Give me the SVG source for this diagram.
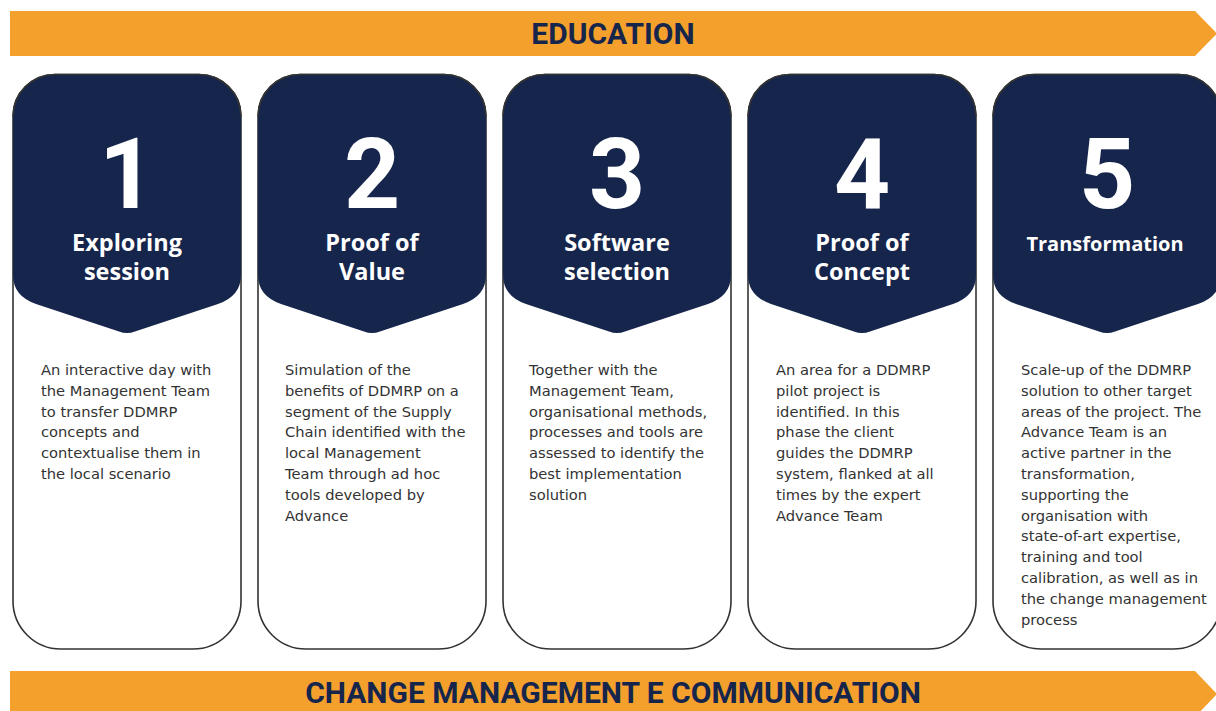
<svg xmlns="http://www.w3.org/2000/svg" width="1216" height="711" viewBox="0 0 1216 711">
<defs>
<style>
.banner{fill:#F4A02D}
.btxt{font-family:Roboto,"Liberation Sans",sans-serif;font-weight:700;font-size:30px;fill:#16254B;text-anchor:middle}
.card{fill:#fff;stroke:#333;stroke-width:1.6}
.head{fill:#16254B}
.num{font-family:Roboto,"Liberation Sans",sans-serif;font-weight:700;font-size:98px;fill:#fff;text-anchor:middle}
.title{font-family:"Open Sans","Noto Sans",sans-serif;font-weight:700;font-size:23.5px;fill:#fff;text-anchor:middle}
.desc{font-family:"DejaVu Sans",sans-serif;font-size:14.7px;fill:#333}
</style>
</defs>
<rect width="1216" height="711" fill="#fff"/>
<g id="banner-top">
<path class="banner" d="M10,11 H1195 L1217,33.5 L1195,56 H10 Z"/>
<text class="btxt" x="613" y="44">EDUCATION</text>
</g>
<g id="banner-bottom">
<path class="banner" d="M10,671 H1195 L1217,694 L1195,717 H10 Z"/>
<text class="btxt" x="613" y="703">CHANGE MANAGEMENT E COMMUNICATION</text>
</g>
<g id="card1" transform="translate(13,0)">
<path class="card" d="M0,116 A42,42 0 0 1 42,74.5 H186 A42,42 0 0 1 228,116 V601 A48,48 0 0 1 180,649 H48 A48,48 0 0 1 0,601 Z"/>
<path class="head" d="M0,116 A42,42 0 0 1 42,74.5 H186 A42,42 0 0 1 228,116 V275 Q228,296 205,304 L122,331.5 Q114,334.5 106,331.5 L23,304 Q0,296 0,275 Z"/>
<path d="M0,116 A42,42 0 0 1 42,74.5 H186 A42,42 0 0 1 228,116" fill="none" stroke="#333" stroke-width="1.6"/>
<text class="num" x="114" y="208">1</text>
<text class="title" x="114" y="251">Exploring</text>
<text class="title" x="114" y="280">session</text>
<text class="desc" x="28" y="375">An interactive day with</text>
<text class="desc" x="28" y="395.8">the Management Team</text>
<text class="desc" x="28" y="416.6">to transfer DDMRP</text>
<text class="desc" x="28" y="437.4">concepts and</text>
<text class="desc" x="28" y="458.2">contextualise them in</text>
<text class="desc" x="28" y="479">the local scenario</text>
</g>
<g id="card2" transform="translate(258,0)">
<path class="card" d="M0,116 A42,42 0 0 1 42,74.5 H186 A42,42 0 0 1 228,116 V601 A48,48 0 0 1 180,649 H48 A48,48 0 0 1 0,601 Z"/>
<path class="head" d="M0,116 A42,42 0 0 1 42,74.5 H186 A42,42 0 0 1 228,116 V275 Q228,296 205,304 L122,331.5 Q114,334.5 106,331.5 L23,304 Q0,296 0,275 Z"/>
<path d="M0,116 A42,42 0 0 1 42,74.5 H186 A42,42 0 0 1 228,116" fill="none" stroke="#333" stroke-width="1.6"/>
<text class="num" x="114" y="208">2</text>
<text class="title" x="114" y="251">Proof of</text>
<text class="title" x="114" y="280">Value</text>
<text class="desc" x="27" y="375">Simulation of the</text>
<text class="desc" x="27" y="395.8">benefits of DDMRP on a</text>
<text class="desc" x="27" y="416.6">segment of the Supply</text>
<text class="desc" x="27" y="437.4">Chain identified with the</text>
<text class="desc" x="27" y="458.2">local Management</text>
<text class="desc" x="27" y="479">Team through ad hoc</text>
<text class="desc" x="27" y="499.8">tools developed by</text>
<text class="desc" x="27" y="520.6">Advance</text>
</g>
<g id="card3" transform="translate(503,0)">
<path class="card" d="M0,116 A42,42 0 0 1 42,74.5 H186 A42,42 0 0 1 228,116 V601 A48,48 0 0 1 180,649 H48 A48,48 0 0 1 0,601 Z"/>
<path class="head" d="M0,116 A42,42 0 0 1 42,74.5 H186 A42,42 0 0 1 228,116 V275 Q228,296 205,304 L122,331.5 Q114,334.5 106,331.5 L23,304 Q0,296 0,275 Z"/>
<path d="M0,116 A42,42 0 0 1 42,74.5 H186 A42,42 0 0 1 228,116" fill="none" stroke="#333" stroke-width="1.6"/>
<text class="num" x="114" y="208">3</text>
<text class="title" x="114" y="251">Software</text>
<text class="title" x="114" y="280">selection</text>
<text class="desc" x="26" y="375">Together with the</text>
<text class="desc" x="26" y="395.8">Management Team,</text>
<text class="desc" x="26" y="416.6">organisational methods,</text>
<text class="desc" x="26" y="437.4">processes and tools are</text>
<text class="desc" x="26" y="458.2">assessed to identify the</text>
<text class="desc" x="26" y="479">best implementation</text>
<text class="desc" x="26" y="499.8">solution</text>
</g>
<g id="card4" transform="translate(748,0)">
<path class="card" d="M0,116 A42,42 0 0 1 42,74.5 H186 A42,42 0 0 1 228,116 V601 A48,48 0 0 1 180,649 H48 A48,48 0 0 1 0,601 Z"/>
<path class="head" d="M0,116 A42,42 0 0 1 42,74.5 H186 A42,42 0 0 1 228,116 V275 Q228,296 205,304 L122,331.5 Q114,334.5 106,331.5 L23,304 Q0,296 0,275 Z"/>
<path d="M0,116 A42,42 0 0 1 42,74.5 H186 A42,42 0 0 1 228,116" fill="none" stroke="#333" stroke-width="1.6"/>
<text class="num" x="114" y="208">4</text>
<text class="title" x="114" y="251">Proof of</text>
<text class="title" x="114" y="280">Concept</text>
<text class="desc" x="28" y="375">An area for a DDMRP</text>
<text class="desc" x="28" y="395.8">pilot project is</text>
<text class="desc" x="28" y="416.6">identified. In this</text>
<text class="desc" x="28" y="437.4">phase the client</text>
<text class="desc" x="28" y="458.2">guides the DDMRP</text>
<text class="desc" x="28" y="479">system, flanked at all</text>
<text class="desc" x="28" y="499.8">times by the expert</text>
<text class="desc" x="28" y="520.6">Advance Team</text>
</g>
<g id="card5" transform="translate(993,0)">
<path class="card" d="M0,116 A42,42 0 0 1 42,74.5 H186 A42,42 0 0 1 228,116 V601 A48,48 0 0 1 180,649 H48 A48,48 0 0 1 0,601 Z"/>
<path class="head" d="M0,116 A42,42 0 0 1 42,74.5 H186 A42,42 0 0 1 228,116 V275 Q228,296 205,304 L122,331.5 Q114,334.5 106,331.5 L23,304 Q0,296 0,275 Z"/>
<path d="M0,116 A42,42 0 0 1 42,74.5 H186 A42,42 0 0 1 228,116" fill="none" stroke="#333" stroke-width="1.6"/>
<text class="num" x="114" y="208">5</text>
<text class="title" x="112" y="251" style="font-size:20px">Transformation</text>
<text class="desc" x="28" y="375">Scale-up of the DDMRP</text>
<text class="desc" x="28" y="395.8">solution to other target</text>
<text class="desc" x="28" y="416.6">areas of the project. The</text>
<text class="desc" x="28" y="437.4">Advance Team is an</text>
<text class="desc" x="28" y="458.2">active partner in the</text>
<text class="desc" x="28" y="479">transformation,</text>
<text class="desc" x="28" y="499.8">supporting the</text>
<text class="desc" x="28" y="520.6">organisation with</text>
<text class="desc" x="28" y="541.4">state-of-art expertise,</text>
<text class="desc" x="28" y="562.2">training and tool</text>
<text class="desc" x="28" y="583">calibration, as well as in</text>
<text class="desc" x="28" y="603.8">the change management</text>
<text class="desc" x="28" y="624.6">process</text>
</g>
</svg>
